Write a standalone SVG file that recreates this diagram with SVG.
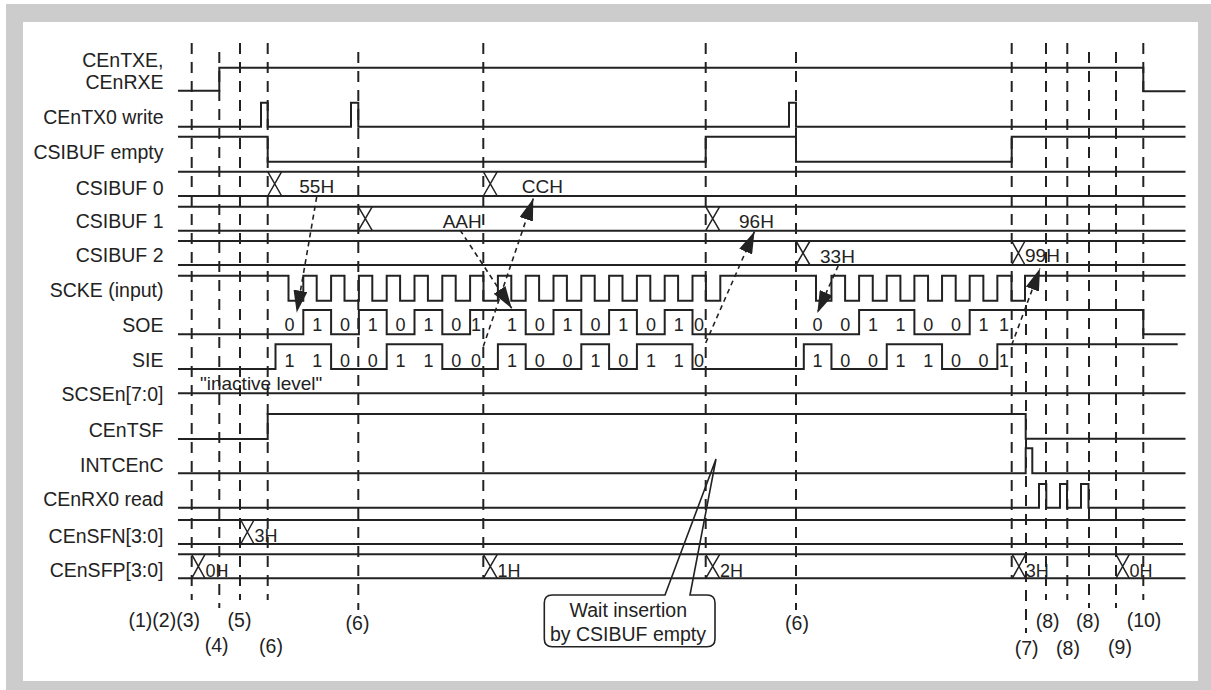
<svg xmlns="http://www.w3.org/2000/svg" width="1211" height="690" viewBox="0 0 1211 690">
<style>
.w{fill:none;stroke:#222;stroke-width:2;stroke-linejoin:miter}
.x{fill:none;stroke:#222;stroke-width:1.5}
.d{fill:none;stroke:#222;stroke-width:2;stroke-dasharray:11 8}
.a{fill:none;stroke:#222;stroke-width:1.6;stroke-dasharray:5 4;marker-end:url(#ah)}
text{font-family:"Liberation Sans",Arial,sans-serif;fill:#222}
.l{font-size:19.5px;text-anchor:end}
.v{font-size:19px}
.b{font-size:18px;text-anchor:middle}
.h{font-size:18px}
.n{font-size:19.5px;text-anchor:middle}
</style>
<defs>
<marker id="ah" markerUnits="userSpaceOnUse" viewBox="0 0 22 14" markerWidth="22" markerHeight="14" refX="22" refY="7" orient="auto">
<path d="M0,0 L22,7 L0,14 Z" fill="#222"/>
</marker>
</defs>
<rect x="6" y="4" width="1205" height="686" fill="#cccccc"/>
<rect x="23" y="22" width="1175" height="659" fill="#ffffff"/>

<g id="sig-cenTxe">
<text class="l" x="163.5" y="66.7">CEnTXE,</text>
<text class="l" x="163.5" y="89.3">CEnRXE</text>
<path class="w" d="M178,90.7 H219.3 V67.7 H1143.3 V91.2 H1185.5"/>
</g>
<g id="sig-cenTx0write">
<text class="l" x="163.5" y="124">CEnTX0 write</text>
<path class="w" d="M178,126.7 H261 V102.7 H267.7 V126.7 H351 V102.7 H358.3 V126.7 H789 V102.7 H796 V126.7 H1185.5"/>
</g>
<g id="sig-csibufEmpty">
<text class="l" x="163.5" y="159">CSIBUF empty</text>
<path class="w" d="M178,136.7 H267.7 V161.7 H705.7 V136.7 H796 V161.7 H1011.7 V136.7 H1185.5"/>
</g>
<g id="sig-csibuf0">
<text class="l" x="163.5" y="195">CSIBUF 0</text>
<path class="w" d="M178,171.7 H1185.5 M178,196 H1185.5"/>
<path class="x" d="M267.7,171.7 L281.7,196 M267.7,196 L281.7,171.7 M483.3,171.7 L497.3,196 M483.3,196 L497.3,171.7"/>
<text class="v" x="299.3" y="193">55H</text>
<text class="v" x="521.7" y="193">CCH</text>
</g>
<g id="sig-csibuf1">
<text class="l" x="163.5" y="227.7">CSIBUF 1</text>
<path class="w" d="M178,206.7 H1185.5 M178,230.7 H1185.5"/>
<path class="x" d="M358.3,206.7 L372.3,230.7 M358.3,230.7 L372.3,206.7 M705.7,206.7 L719.7,230.7 M705.7,230.7 L719.7,206.7"/>
<text class="v" x="442.7" y="228">AAH</text>
<text class="v" x="739" y="228">96H</text>
</g>
<g id="sig-csibuf2">
<text class="l" x="163.5" y="262">CSIBUF 2</text>
<path class="w" d="M178,241 H1185.5 M178,265 H1185.5"/>
<path class="x" d="M796,241 L810,265 M796,265 L810,241 M1011.7,241 L1025,265 M1011.7,265 L1025,241"/>
<text class="v" x="820" y="262.5">33H</text>
<text class="v" x="1025" y="262">99H</text>
</g>
<g id="sig-scke">
<text class="l" x="163.5" y="296.7">SCKE (input)</text>
<path class="w" d="M178,275.7 H288.5 V300.7 H303.3 V275.7 H316.7 V300.7 H331.1 V275.7 H344.5 V300.7 H358.9 V275.7 H372.3 V300.7 H386.7 V275.7 H400.1 V300.7 H414.5 V275.7 H427.9 V300.7 H442.3 V275.7 H455.7 V300.7 H470.1 V275.7 H483.5 V300.7 H497.9 V275.7 H511.3 V300.7 H525.7 V275.7 H539.1 V300.7 H553.5 V275.7 H566.9 V300.7 H581.3 V275.7 H594.7 V300.7 H609.1 V275.7 H622.5 V300.7 H636.9 V275.7 H650.3 V300.7 H664.7 V275.7 H678.1 V300.7 H692.5 V275.7 H705.9 V300.7 H720.3 V275.7 H816 V300.7 H831.45 V275.7 H845.1 V300.7 H859.1 V275.7 H872.75 V300.7 H886.75 V275.7 H900.4 V300.7 H914.4 V275.7 H928.05 V300.7 H942.05 V275.7 H955.7 V300.7 H969.7 V275.7 H983.35 V300.7 H997.35 V275.7 H1011.5 V300.7 H1025 V275.7 H1185.5"/>
</g>
<g id="sig-soe">
<text class="l" x="163.5" y="331.7">SOE</text>
<path class="w" d="M178,334.3 H303.3 V310 H331.1 V334.3 H358.9 V310 H386.7 V334.3 H414.5 V310 H442.3 V334.3 H470.1 V310 H525.7 V334.3 H553.5 V310 H581.3 V334.3 H609.1 V310 H636.9 V334.3 H664.7 V310 H692.5 V334.3 H859.1 V310 H914.4 V334.3 H969.7 V310 H1143.3 V334.3 H1185.5"/>
<g class="b">
<text class="b" x="289.4" y="331">0</text><text class="b" x="317.2" y="331">1</text><text class="b" x="345" y="331">0</text><text class="b" x="372.8" y="331">1</text>
<text class="b" x="400.6" y="331">0</text><text class="b" x="428.4" y="331">1</text><text class="b" x="456.2" y="331">0</text><text class="b" x="476" y="331">1</text>
<text class="b" x="512" y="331">1</text><text class="b" x="539.8" y="331">0</text><text class="b" x="567.6" y="331">1</text><text class="b" x="595.4" y="331">0</text>
<text class="b" x="623.2" y="331">1</text><text class="b" x="651" y="331">0</text><text class="b" x="678.8" y="331">1</text><text class="b" x="699" y="331">0</text>
<text class="b" x="817.6" y="331">0</text><text class="b" x="845.3" y="331">0</text><text class="b" x="872.9" y="331">1</text><text class="b" x="900.6" y="331">1</text>
<text class="b" x="928.2" y="331">0</text><text class="b" x="955.9" y="331">0</text><text class="b" x="983.5" y="331">1</text><text class="b" x="1004" y="331">1</text>
</g>
</g>
<g id="sig-sie">
<text class="l" x="163.5" y="366.7">SIE</text>
<path class="w" d="M178,369 H275.5 V344.3 H331.1 V369 H386.7 V344.3 H442.3 V369 H497.9 V344.3 H525.7 V369 H581.3 V344.3 H609.1 V369 H636.9 V344.3 H692.5 V369 H803.8 V344.3 H831.45 V369 H886.75 V344.3 H942.05 V369 H997.35 V344.3 H1177.7"/>
<text class="b" x="289.4" y="366.5">1</text><text class="b" x="317.2" y="366.5">1</text><text class="b" x="345" y="366.5">0</text><text class="b" x="372.8" y="366.5">0</text>
<text class="b" x="400.6" y="366.5">1</text><text class="b" x="428.4" y="366.5">1</text><text class="b" x="456.2" y="366.5">0</text><text class="b" x="476" y="366.5">0</text>
<text class="b" x="512" y="366.5">1</text><text class="b" x="539.8" y="366.5">0</text><text class="b" x="567.6" y="366.5">0</text><text class="b" x="595.4" y="366.5">1</text>
<text class="b" x="623.2" y="366.5">0</text><text class="b" x="651" y="366.5">1</text><text class="b" x="678.8" y="366.5">1</text><text class="b" x="699" y="366.5">0</text>
<text class="b" x="817.6" y="366.5">1</text><text class="b" x="845.3" y="366.5">0</text><text class="b" x="872.9" y="366.5">0</text><text class="b" x="900.6" y="366.5">1</text>
<text class="b" x="928.2" y="366.5">1</text><text class="b" x="955.9" y="366.5">0</text><text class="b" x="983.5" y="366.5">0</text><text class="b" x="1004" y="366.5">1</text>
</g>
<g id="sig-scsen">
<text class="l" x="163.5" y="400.7">SCSEn[7:0]</text>
<path class="w" d="M178,393.3 H1185.5"/>
<text class="v" x="200" y="390">"inactive level"</text>
</g>
<g id="sig-centsf">
<text class="l" x="163.5" y="436.7">CEnTSF</text>
<path class="w" d="M178,439 H267.7 V414 H1025.7 V438.7 H1185.5"/>
</g>
<g id="sig-intcenc">
<text class="l" x="163.5" y="472">INTCEnC</text>
<path class="w" d="M178,473.3 H1025.7 V448.3 H1032.3 V473.3 H1185.5"/>
</g>
<g id="sig-cenrx0read">
<text class="l" x="163.5" y="505.7">CEnRX0 read</text>
<path class="w" d="M178,507.7 H1039 V484 H1046.3 V507.7 H1060 V484 H1067 V507.7 H1081 V484 H1088.5 V507.7 H1185.5"/>
</g>
<g id="sig-censfn">
<text class="l" x="163.5" y="542.7">CEnSFN[3:0]</text>
<path class="w" d="M178,520 H1185.5 M178,544 H1183"/>
<path class="x" d="M240.7,520 L254,544 M240.7,544 L254,520"/>
<text class="h" x="254.5" y="542">3H</text>
</g>
<g id="sig-censfp">
<text class="l" x="163.5" y="576.7">CEnSFP[3:0]</text>
<path class="w" d="M178,554.3 H1185.5 M178,578.3 H1185.5"/>
<path class="x" d="M191.7,554.3 L205,578.3 M191.7,578.3 L205,554.3 M483.3,554.3 L497.3,578.3 M483.3,578.3 L497.3,554.3 M705.7,554.3 L719.7,578.3 M705.7,578.3 L719.7,554.3 M1012.3,554.3 L1025.7,578.3 M1012.3,578.3 L1025.7,554.3 M1116,554.3 L1129.3,578.3 M1116,578.3 L1129.3,554.3"/>
<text class="h" x="205.5" y="576.5">0H</text>
<text class="h" x="497.5" y="576.5">1H</text>
<text class="h" x="720" y="576.5">2H</text>
<text class="h" x="1025.7" y="576.5">3H</text>
<text class="h" x="1129.5" y="576.5">0H</text>
</g>

<g id="timing-marks">
<path class="d" d="M191.7,43 V600 M219.3,52 V608 M240,43 V600 M267.7,43 V600 M358.3,52 V610 M483.3,43 V578 M705.7,43 V578 M796,52 V610 M1011.7,43 V578 M1026,305 V633 M1046,43 V600 M1067.3,43 V600 M1089,52 V608 M1116,52 V608 M1143.3,43 V600"/>
<text x="200" y="627" style="font-size:19.5px;text-anchor:end">(1)(2)(3)</text>
<text class="n" x="239.5" y="627">(5)</text>
<text class="n" x="357.5" y="630">(6)</text>
<text class="n" x="797" y="630">(6)</text>
<text class="n" x="1047.7" y="628">(8)</text>
<text class="n" x="1088" y="628">(8)</text>
<text class="n" x="1144" y="627">(10)</text>
<text class="n" x="216.7" y="652">(4)</text>
<text class="n" x="271" y="653">(6)</text>
<text class="n" x="1026.7" y="655">(7)</text>
<text class="n" x="1068" y="655">(8)</text>
<text class="n" x="1120" y="654">(9)</text>
</g>

<g id="connectors">
<path class="a" d="M316.7,197 L296.7,312.5"/>
<path class="a" d="M460,230 L511.7,308.3"/>
<path class="a" d="M483.3,346.5 L533.3,198.5"/>
<path class="a" d="M705.7,343 L754.5,231.5"/>
<path class="a" d="M838.3,265.5 L817.3,313"/>
<path class="a" d="M1011.7,345 L1040,268.5"/>
</g>

<g id="callout">
<path d="M552.3,595 L665,595 L716,459 L690,595 L707,595 Q715,595 715,603 L715,638.7 Q715,646.7 707,646.7 L552.3,646.7 Q544.3,646.7 544.3,638.7 L544.3,603 Q544.3,595 552.3,595 Z" fill="none" stroke="#222" stroke-width="1.6"/>
<text class="n" x="628.3" y="616.7">Wait insertion</text>
<text class="n" x="628" y="640.5">by CSIBUF empty</text>
</g>
</svg>
